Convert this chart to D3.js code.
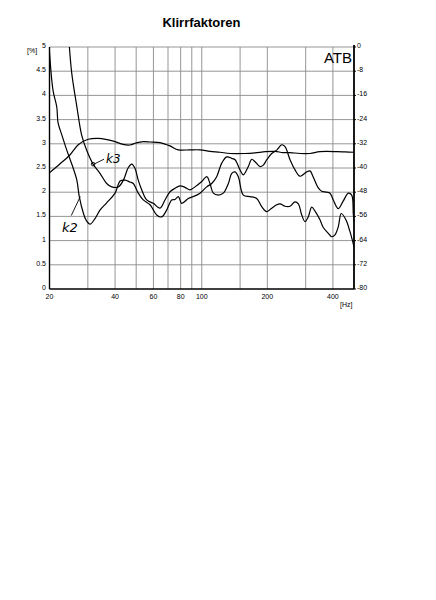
<!DOCTYPE html>
<html><head><meta charset="utf-8">
<script src="https://cdn.jsdelivr.net/npm/d3@7"></script>
<style>
html,body{margin:0;padding:0;background:#fff;}
svg{display:block;font-family:"Liberation Sans",Arial,sans-serif;}
</style></head>
<body>
<svg id="c" width="436" height="600"></svg>
<script>
// ---- data ----
const title = "Klirrfaktoren";
const gridFreqs = [30,40,50,60,70,80,90,100,150,200,300,400];
const freqLabels = [20,40,60,80,100,200,400];
const pctTicks = [0,0.5,1,1.5,2,2.5,3,3.5,4,4.5,5];
const dbTicks = [0,-8,-16,-24,-32,-40,-48,-56,-64,-72,-80];

// k2 distortion [%]
const k2Freq = [19.8,20.75,21.6,21.9,22.8,24.0,25.5,26.7,27.4,28.6,29.4,30.7,32.4,34.1,36.6,40,42.2,44.5,46.8,48.5,51.1,53.9,57.9,62.1,65.5,69,72.8,75.4,78.1,80.9,86.8,91.5,98.2,105.4,111.1,117.1,123.5,130.2,137.3,142.2,149.9,155.2,163.6,169.6,175.6,185.1,191.7,198.7,209.5,220.9,232.9,241.2,254.3,268.1,282.5,303.3,314,325.2,342.8,355.4,374.6,388,401.7,423.6,446.5,470.8,488,496.3,500];
const k2Val  = [5.2,4.11,3.76,3.43,3.18,2.87,2.54,2.25,1.91,1.57,1.43,1.34,1.46,1.63,1.78,1.98,2.23,2.25,2.21,2.18,1.98,1.84,1.74,1.53,1.49,1.63,1.84,1.85,1.91,1.77,1.87,1.91,1.98,2.11,2.18,2.32,2.60,2.73,2.70,2.67,2.46,2.36,2.53,2.68,2.63,2.53,2.56,2.67,2.80,2.87,2.98,2.94,2.67,2.46,2.33,2.42,2.44,2.31,2.09,2.02,2.00,1.98,1.84,1.66,1.82,1.98,1.94,1.55,1.39];

// k3 distortion [%]
const k3Freq = [24.5,25.3,26.7,28.1,29.6,31.7,34.1,36.6,38.6,41.4,43.7,45.9,47.7,49.4,51.1,53.0,55.9,59.9,64.3,67.8,71.5,75.4,79.5,83.8,88.3,93.1,100,105.4,109.1,113,119.1,125.6,132.5,137.3,142.2,147.2,155.2,166.6,178.8,188.5,198.7,209.5,220.9,228.7,241.2,254.3,268.1,277.6,287.7,297.9,308.4,319.7,331.1,349,361.4,381.1,395,409,423.6,437,459,478,494,500];
const k3Val  = [5.2,4.46,3.77,3.18,2.87,2.58,2.39,2.18,2.11,2.11,2.25,2.50,2.58,2.49,2.25,2.05,1.84,1.77,1.67,1.84,2.01,2.08,2.13,2.10,2.05,2.11,2.22,2.32,2.18,1.98,1.94,1.98,2.18,2.39,2.42,2.32,1.94,1.91,1.87,1.70,1.60,1.67,1.74,1.76,1.71,1.71,1.80,1.76,1.53,1.39,1.49,1.69,1.61,1.43,1.27,1.15,1.08,1.12,1.29,1.56,1.43,1.20,0.97,0.87];

// level curve [dB], right axis
const lvFreq = [20,22.3,24.8,27.1,30.1,33.4,36.7,40,43.5,46.8,50,53.9,57.9,64.3,71.5,78,88.3,98.2,109,121.3,134.8,157.8,175.6,196,216.9,236,254.3,282.5,314,349,420,455,500];
const lvDb   = [-41.6,-38.7,-35.7,-32.3,-30.5,-30.2,-30.6,-31.3,-32.2,-32.4,-31.7,-31.3,-31.4,-31.6,-32.7,-34.0,-34.0,-34.0,-34.5,-34.8,-35.2,-35.2,-35.0,-34.6,-34.5,-34.9,-34.9,-35.2,-35.2,-34.6,-34.6,-34.7,-34.8];

// ---- drawing ----
const svg = d3.select("#c");
const L = 49.5, R = 354, T = 47, B = 289;
const x = d3.scaleLog().domain([20,500]).range([L,R]);
const y = d3.scaleLinear().domain([0,5]).range([B,T]);
const yR = d3.scaleLinear().domain([-80,0]).range([B,T]);

svg.append("text").attr("x",201.5).attr("y",27).attr("text-anchor","middle")
  .attr("font-size",13).attr("font-weight","bold").text(title);

const grid = svg.append("g").attr("stroke","#8a8a8a").attr("stroke-width",0.9);
grid.selectAll(".v").data(gridFreqs).enter().append("line")
  .attr("x1",d=>x(d)).attr("x2",d=>x(d)).attr("y1",T).attr("y2",B);
grid.selectAll(".h").data(pctTicks.slice(1)).enter().append("line")
  .attr("x1",L).attr("x2",R).attr("y1",d=>y(d)).attr("y2",d=>y(d));

// axes lines
svg.append("line").attr("x1",L).attr("x2",L).attr("y1",T).attr("y2",B).attr("stroke","#000").attr("stroke-width",1.4);
svg.append("line").attr("x1",R).attr("x2",R).attr("y1",T-2).attr("y2",B).attr("stroke","#000").attr("stroke-width",1.8);
svg.append("line").attr("x1",L).attr("x2",R).attr("y1",B).attr("y2",B).attr("stroke","#000").attr("stroke-width",1.6);

// left axis labels
const fmt = d => (d%1===0? String(d) : String(d));
svg.append("g").selectAll("text").data(pctTicks).enter().append("text")
  .attr("x",46).attr("y",d=>y(d)+1).attr("text-anchor","end")
  .attr("font-size",7).text(fmt);
svg.append("text").attr("x",27).attr("y",53).attr("font-size",7).text("[%]");

// right axis
svg.append("g").selectAll("line").data(dbTicks).enter().append("line")
  .attr("x1",R).attr("x2",R+2).attr("y1",d=>yR(d)).attr("y2",d=>yR(d)).attr("stroke","#000");
svg.append("g").selectAll("text").data(dbTicks).enter().append("text")
  .attr("x",357).attr("y",d=>yR(d)+1).attr("font-size",7).text(d=>String(d));

// bottom labels
svg.append("g").selectAll("text").data(freqLabels).enter().append("text")
  .attr("x",d=>x(d)).attr("y",299).attr("text-anchor","middle")
  .attr("font-size",7).text(d=>String(d));
svg.append("text").attr("x",340).attr("y",307).attr("font-size",7).text("[Hz]");

svg.append("text").attr("x",352).attr("y",63).attr("text-anchor","end")
  .attr("font-size",15).text("ATB");

// curves
svg.append("clipPath").attr("id","clip").append("rect")
  .attr("x",L).attr("y",T).attr("width",R-L).attr("height",B-T);
const cg = svg.append("g").attr("clip-path","url(#clip)")
  .attr("fill","none").attr("stroke","#000").attr("stroke-width",1.2);
const line = d3.line().curve(d3.curveCatmullRom.alpha(0.5));
cg.append("path").attr("d", line(k2Freq.map((f,i)=>[x(f),y(k2Val[i])])));
cg.append("path").attr("d", line(k3Freq.map((f,i)=>[x(f),y(k3Val[i])])));
cg.append("path").attr("d", line(lvFreq.map((f,i)=>[x(f),yR(lvDb[i])])));

// handwritten annotations
const ann = svg.append("g").attr("fill","none").attr("stroke","#000").attr("stroke-width",0.9);
ann.append("line").attr("x1",x(31.7)+1).attr("y1",y(2.58)).attr("x2",x(31.7)+11).attr("y2",y(2.58)-5);
ann.append("circle").attr("cx",x(31.7)).attr("cy",y(2.58)).attr("r",1.8);
ann.append("line").attr("x1",x(27.4)+1).attr("y1",y(1.91)).attr("x2",x(27.4)-8).attr("y2",y(1.91)+19);
svg.append("text").attr("x",106).attr("y",163).attr("font-size",12)
  .attr("font-style","italic").attr("font-family","DejaVu Sans").text("k3");
svg.append("text").attr("x",62).attr("y",232).attr("font-size",13)
  .attr("font-style","italic").attr("font-family","DejaVu Sans").text("k2");
</script>
</body></html>
